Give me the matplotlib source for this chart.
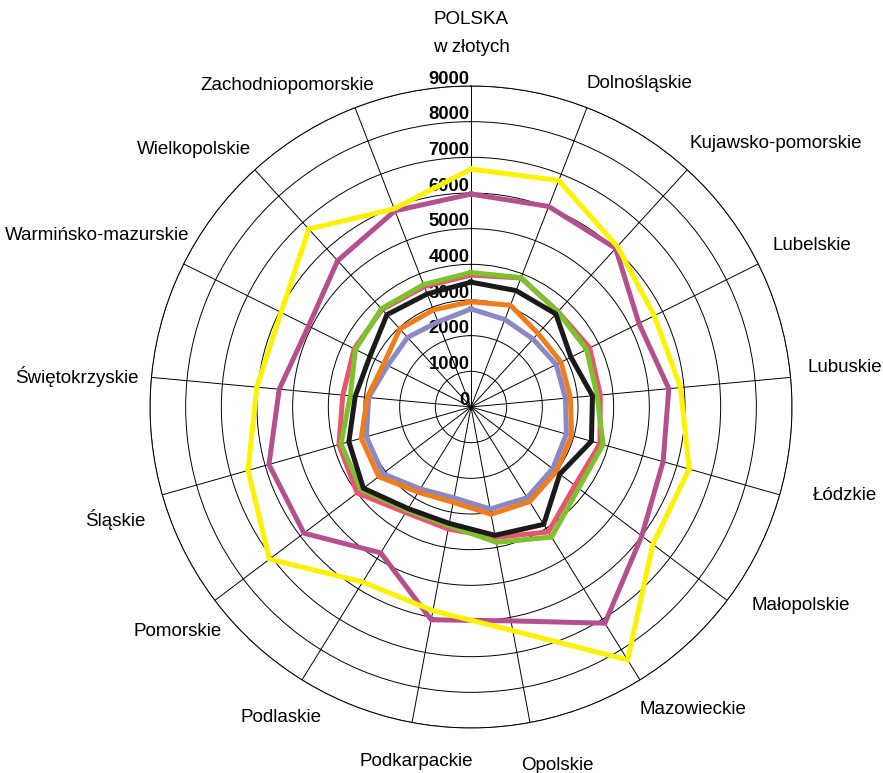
import numpy as np
import matplotlib
matplotlib.use('Agg')
import matplotlib.pyplot as plt

plt.rcParams['font.family'] = ['Liberation Sans', 'DejaVu Sans']

# categories, clockwise from the top
regions = ['POLSKA', 'Dolnośląskie', 'Kujawsko-pomorskie', 'Lubelskie', 'Lubuskie',
           'Łódzkie', 'Małopolskie', 'Mazowieckie', 'Opolskie', 'Podkarpackie',
           'Podlaskie', 'Pomorskie', 'Śląskie', 'Świętokrzyskie',
           'Warmińsko-mazurskie', 'Wielkopolskie', 'Zachodniopomorskie']

# values in zł
yellow_vals = [6670, 6810, 6090, 5740, 5900, 6360, 6390, 8340, 6380,
               5810, 5770, 7080, 6500, 6030, 5950, 6750, 5960]
magenta_vals = [5970, 6030, 6020, 5260, 5570, 5600, 6000, 7130, 6100,
                6070, 4810, 5870, 5890, 5400, 5090, 5550, 5900]
green_vals = [3770, 3890, 3610, 3620, 3550, 3850, 3780, 4290, 3860,
              3380, 3400, 3850, 3790, 3400, 3620, 3730, 3680]
pink_vals = [3700, 3880, 3620, 3720, 3640, 3760, 3650, 4120, 3720,
             3480, 3480, 4000, 3850, 3610, 3660, 3700, 3620]
black_vals = [3500, 3500, 3530, 3130, 3420, 3510, 3120, 3870, 3660,
              3320, 3350, 3780, 3560, 3260, 3170, 3500, 3400]
orange_vals = [2950, 3060, 2790, 2820, 2800, 2930, 3000, 3120, 3060,
               2720, 2810, 3240, 3200, 2920, 2730, 2960, 2920]
lavender_vals = [2750, 2630, 2580, 2670, 2660, 2780, 2870, 2990, 2910,
                 2590, 2700, 3100, 3050, 2880, 2610, 2640, 2560]

ring_values = list(range(0, 9001, 1000))

W, H = 883, 773
fig = plt.figure(figsize=(W / 100, H / 100), dpi=100)

# chart centre and outer radius in pixels
cx, cy, rad = 471, 407, 321
ax = fig.add_axes([(cx - rad) / W, (H - cy - rad) / H, 2 * rad / W, 2 * rad / H],
                  projection='polar')
ax.set_theta_zero_location('N')
ax.set_theta_direction(-1)

n = len(regions)
angles = np.linspace(0, 2 * np.pi, n, endpoint=False)
ax.set_ylim(0, 9000)
ax.set_yticks(ring_values[1:])
ax.set_yticklabels([])
ax.set_xticks(angles)
ax.set_xticklabels([])
ax.set_axisbelow(True)
ax.grid(True, color='black', lw=0.7)
ax.spines['polar'].set_color('black')
ax.spines['polar'].set_linewidth(0.7)

series = [
    (lavender_vals, '#8C88C4'),
    (orange_vals, '#EE7D1E'),
    (pink_vals, '#E5566F'),
    (green_vals, '#7DC22E'),
    (black_vals, '#1A1A1A'),
    (magenta_vals, '#B5508F'),
    (yellow_vals, '#FFF200'),
]
theta = np.append(angles, angles[0])
for z, (vals, col) in enumerate(series):
    r = np.append(vals, vals[0])
    ax.plot(theta, r, color=col, lw=3.6, solid_joinstyle='miter', zorder=4 + z,
            clip_on=False)

# bold scale labels to the left of the vertical axis
for v in ring_values:
    ax.annotate(str(v), xy=(0, v), xytext=(-1, 5), textcoords='offset points',
                ha='right', va='center', fontsize=13.3, fontweight='bold',
                zorder=3, annotation_clip=False)

# category label centres, in image pixels
label_xy = [(471, 20), (639, 83), (776, 143), (812, 245), (845, 368),
            (845, 495), (801, 606), (693, 709), (557, 765), (416, 762),
            (281, 718), (178, 632), (115, 520), (77, 376), (97, 236),
            (194, 150), (287, 85)]
for name, (x, y) in zip(regions, label_xy):
    fig.text(x / W, 1 - y / H, name, ha='center', va='center', fontsize=13.5)
fig.text(471 / W, 1 - 48 / H, 'w złotych', ha='center', va='center', fontsize=13.5)

fig.savefig('out.png', dpi=100)
